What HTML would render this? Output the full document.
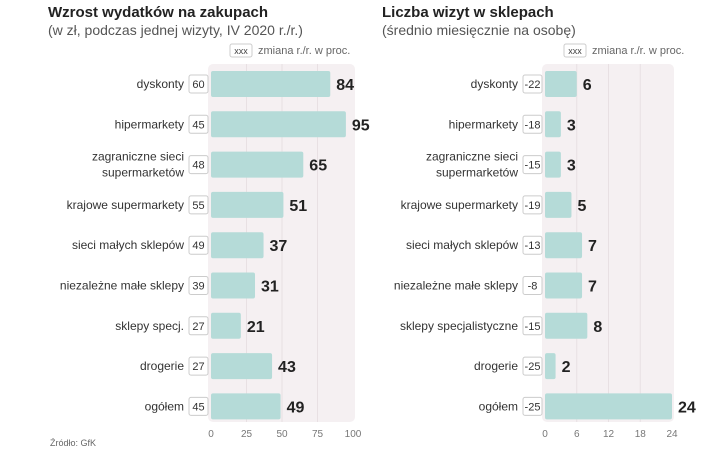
<!DOCTYPE html>
<html><head><meta charset="utf-8"><style>
body{margin:0;width:720px;height:460px;background:#fff;font-family:"Liberation Sans",sans-serif;overflow:hidden;position:relative}
svg{position:absolute;left:0;top:0}
</style></head><body>
<svg width="720" height="460" xmlns="http://www.w3.org/2000/svg">
<g id="root"></g>
</svg>
<script>
const categoriesL=["dyskonty","hipermarkety","zagraniczne sieci|supermarketów","krajowe supermarkety","sieci małych sklepów","niezależne małe sklepy","sklepy specj.","drogerie","ogółem"];
const valuesL=[84,95,65,51,37,31,21,43,49];
const changesL=[60,45,48,55,49,39,27,27,45];
const ticksL=[0,25,50,75,100];
const categoriesR=["dyskonty","hipermarkety","zagraniczne sieci|supermarketów","krajowe supermarkety","sieci małych sklepów","niezależne małe sklepy","sklepy specjalistyczne","drogerie","ogółem"];
const valuesR=[6,3,3,5,7,7,8,2,24];
const changesR=["-22","-18","-15","-19","-13","-8","-15","-25","-25"];
const ticksR=[0,6,12,18,24];
const NS="http://www.w3.org/2000/svg";
const root=document.getElementById('root');
function mk(t,a,txt){const e=document.createElementNS(NS,t);for(const k in a)e.setAttribute(k,a[k]);if(txt!==undefined)e.textContent=txt;root.appendChild(e);return e;}
function rowY(i){return 84+i*40.3;}
function panel(x0,x1,max,cats,vals,chg,ticks,title,sub,key){
  const sx=v=>x0+3+(x1-x0-3)*v/max;
  let e=mk('text',{x:x0-160,y:17,'font-size':15,'font-weight':'bold',fill:'#222'},title);
  
  e=mk('text',{x:x0-160,y:35,'font-size':14,fill:'#555'},sub);
  
  const lx=x0+22;
  e=mk('rect',{x:lx,y:44,width:22,height:13,rx:2,fill:'#fff',stroke:'#ccc'});
  
  mk('text',{x:lx+11,y:54,'font-size':9,fill:'#444','text-anchor':'middle'},'xxx');
  e=mk('text',{x:lx+28,y:54,'font-size':11,fill:'#666'},'zmiana r./r. w proc.');
  
  e=mk('rect',{x:x0,y:64,width:x1-x0+2,height:358,rx:5,fill:'#f5f0f2'});
  
  ticks.forEach(t=>{
    if(t>0&&t<max){const g=mk('line',{x1:sx(t),x2:sx(t),y1:64,y2:422,stroke:'#e8e0e3'});}
    const l=mk('text',{x:sx(t),y:437,'font-size':10,fill:'#777','text-anchor':'middle'},t);
    
  });
  cats.forEach((c,i)=>{
    const y=rowY(i);
    const b=mk('rect',{x:sx(0),y:y-13,width:sx(vals[i])-sx(0),height:26,rx:2,fill:'#b5dbd8'});
    
    const v=mk('text',{x:sx(vals[i])+6,y:y+6,'font-size':16,'font-weight':'bold',fill:'#222'},vals[i]);
    
    const bx=mk('rect',{x:x0-19,y:y-9,width:19,height:18,rx:2,fill:'#fff',stroke:'#ccc'});
    
    const ct=mk('text',{x:x0-9.5,y:y+4,'font-size':11,fill:'#333','text-anchor':'middle'},chg[i]);
    
    const parts=c.split('|');
    parts.forEach((p,j)=>{
      const ty=y+4+(j-(parts.length-1)/2)*16;
      const t=mk('text',{x:x0-24,y:ty,'font-size':12,fill:'#333','text-anchor':'end'},p);
      
    });
  });
}
panel(208,353,100,categoriesL,valuesL,changesL,ticksL,"Wzrost wydatków na zakupach","(w zł, podczas jednej wizyty, IV 2020 r./r.)",'left');
panel(542,672,24,categoriesR,valuesR,changesR,ticksR,"Liczba wizyt w sklepach","(średnio miesięcznie na osobę)",'right');
const s=mk('text',{x:50,y:446,'font-size':9,fill:'#666'},'Źródło: GfK');

</script>
</body></html>
